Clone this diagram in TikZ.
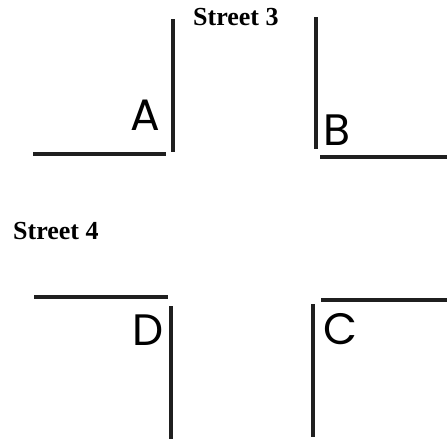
\documentclass[tikz,border=0pt]{standalone}
\usepackage{fontspec}
\setmainfont{Liberation Serif}
\newfontfamily\cornerfont{Poppins}

\begin{document}
\begin{tikzpicture}[
  x=1pt, y=-1pt,
  curb/.style={line width=4.5pt, black!88},
  corner/.style={font=\cornerfont\fontsize{44}{44}\selectfont, inner sep=0pt},
  street/.style={font=\bfseries\fontsize{26}{26}\selectfont, inner sep=0pt, anchor=base west}
]
  \useasboundingbox (0,0) rectangle (447,442);

  % corner A
  \draw[curb] (33,154) -- (166,154);
  \draw[curb] (173,19) -- (173,152);
  \node[corner] (A) at (145,115) {A};

  % corner B
  \draw[curb] (316,17) -- (316,149);
  \draw[curb] (320,157) -- (447,157);
  \node[corner] (B) at (337,130) {B};

  % corner D
  \draw[curb] (34,297) -- (168,297);
  \draw[curb] (171,306) -- (171,439);
  \node[corner] (D) at (148,330) {D};

  % corner C
  \draw[curb] (321,300) -- (447,300);
  \draw[curb] (313,304) -- (313,437);
  \node[corner] (C) at (340,329) {C};

  % street names
  \node[street] (st3) at (193,25) {Street 3};
  \node[street] (st4) at (13,239) {Street 4};
\end{tikzpicture}
\end{document}
